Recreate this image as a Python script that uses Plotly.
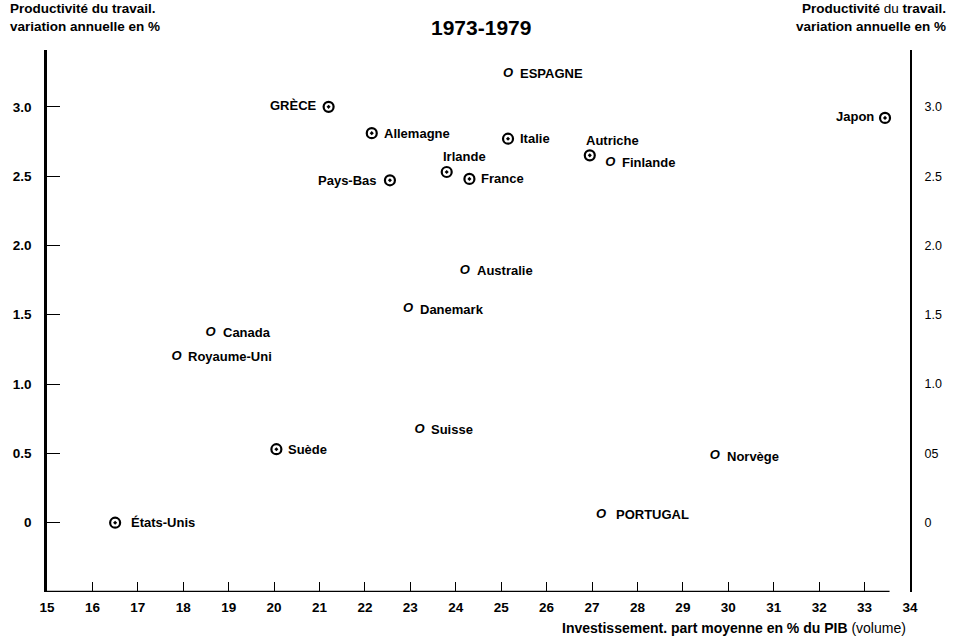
import plotly.graph_objects as go

# Investissement (% du PIB) vs productivité du travail, 1973-1979
countries = ["GRÈCE", "ESPAGNE", "Allemagne", "Italie", "Autriche", "Finlande", "Japon",
             "Irlande", "France", "Pays-Bas", "Australie", "Danemark", "Canada", "Royaume-Uni",
             "Suisse", "Suède", "Norvège", "États-Unis", "PORTUGAL"]
investment = [21.2, 25.15, 22.15, 25.15, 26.95, 27.4, 33.45,
              23.8, 24.3, 22.55, 24.2, 22.95, 18.6, 17.85,
              23.2, 20.05, 29.7, 16.5, 27.2]
productivity = [3.0, 3.24, 2.81, 2.77, 2.65, 2.6, 2.92,
                2.53, 2.48, 2.47, 1.82, 1.54, 1.37, 1.2,
                0.67, 0.53, 0.48, 0.0, 0.06]
dotted = [True, False, True, True, True, False, True,
          True, True, True, False, False, False, False,
          False, True, False, True, False]

x_ticks = list(range(15, 35))
y_ticks = [0, 0.5, 1.0, 1.5, 2.0, 2.5, 3.0]
y_left_labels = ["0", "0.5", "1.0", "1.5", "2.0", "2.5", "3.0"]
y_right_labels = ["0", "05", "1.0", "1.5", "2.0", "2.5", "3.0"]

SANS = "Liberation Sans, Arial, sans-serif"

# label placement: (xanchor, xshift, yshift)
place = {"GRÈCE": ("right", -10, 1), "Pays-Bas": ("right", -11, 0), "Japon": ("right", -9, 1),
         "Irlande": ("center", 18, 15), "Autriche": ("center", 23, 15),
         "États-Unis": ("left", 14, 0), "PORTUGAL": ("left", 13, 0)}

fx = [x for x, d in zip(investment, dotted) if d]
fy = [y for y, d in zip(productivity, dotted) if d]
ox = [x for x, d in zip(investment, dotted) if not d]
oy = [y for y, d in zip(productivity, dotted) if not d]

fig = go.Figure()
fig.add_trace(go.Scatter(x=fx, y=fy, mode="markers", hoverinfo="skip",
                         marker=dict(symbol="circle-open-dot", size=10, color="black",
                                     line=dict(width=2.2, color="black"))))
fig.add_trace(go.Scatter(x=ox, y=oy, mode="text", text=["<b><i>O</i></b>"] * len(ox), hoverinfo="skip",
                         textposition="middle center",
                         textfont=dict(family=SANS, size=13, color="black")))
fig.add_trace(go.Scatter(x=[None], y=[None], yaxis="y2", showlegend=False, hoverinfo="skip"))

for name, x, y in zip(countries, investment, productivity):
    anchor, dx, dy = place.get(name, ("left", 10, 0))
    fig.add_annotation(x=x, y=y, text="<b>%s</b>" % name, showarrow=False,
                       xanchor=anchor, yanchor="middle", xshift=dx, yshift=dy,
                       font=dict(family=SANS, size=13, color="black"))

fig.add_shape(type="line", xref="x", yref="y", x0=15, x1=33.55, y0=-0.5, y1=-0.5,
              line=dict(color="black", width=2.5))

W, H, L, R, T, B = 954, 640, 47, 41, 50, 48


def px(x, y):
    # pixel position -> paper coords
    return (x - L) / (W - L - R), 1 - (y - T) / (H - T - B)


tx, ty = px(483, 27)
fig.add_annotation(x=tx, y=ty, xref="paper", yref="paper", text="<b>1973-1979</b>",
                   showarrow=False, yanchor="middle", font=dict(family=SANS, size=21, color="black"))
tx, ty = px(8, 18)
fig.add_annotation(x=tx, y=ty, xref="paper", yref="paper",
                   text="<b>Productivité du travail.<br>variation annuelle en %</b>",
                   showarrow=False, xanchor="left", yanchor="middle", align="left",
                   font=dict(family=SANS, size=13.5, color="black"))
tx, ty = px(951, 18)
fig.add_annotation(x=tx, y=ty, xref="paper", yref="paper",
                   text="<b>Productivité</b> du <b>travail.<br>variation annuelle en %</b>",
                   showarrow=False, xanchor="right", yanchor="middle", align="right",
                   font=dict(family=SANS, size=13.5, color="black"))
tx, ty = px(911, 628)
fig.add_annotation(x=tx, y=ty, xref="paper", yref="paper",
                   text="<b>Investissement. part moyenne en % du PIB</b> (volume)",
                   showarrow=False, xanchor="right", yanchor="middle",
                   font=dict(family=SANS, size=14, color="black"))

fig.update_layout(
    width=W, height=H, plot_bgcolor="white", paper_bgcolor="white",
    margin=dict(l=L, r=R, t=T, b=B), showlegend=False,
    xaxis=dict(range=[15, 34], tickvals=x_ticks, ticks="inside", ticklen=10, tickwidth=1.2,
               tickcolor="black", showline=False, showgrid=False, zeroline=False,
               tickfont=dict(family=SANS, size=13.5, color="black", weight="bold"),
               ticklabelstandoff=5),
    yaxis=dict(range=[-0.5, 3.41], tickvals=y_ticks, ticktext=y_left_labels, ticks="inside",
               ticklen=13, tickwidth=1.2, tickcolor="black", showline=True, linewidth=2.5,
               linecolor="black", showgrid=False, zeroline=False, ticklabelstandoff=10,
               tickfont=dict(family=SANS, size=13.5, color="black", weight="bold")),
    yaxis2=dict(range=[-0.5, 3.41], overlaying="y", side="right", anchor="x",
                tickvals=y_ticks, ticktext=y_right_labels, ticks="", showline=True,
                linewidth=2, linecolor="black", showgrid=False, zeroline=False,
                ticklabelstandoff=10, tickfont=dict(family=SANS, size=12.5, color="black")),
)

fig.write_html("out.html", config={"displayModeBar": False},
               post_script="document.body.style.margin='0';")
